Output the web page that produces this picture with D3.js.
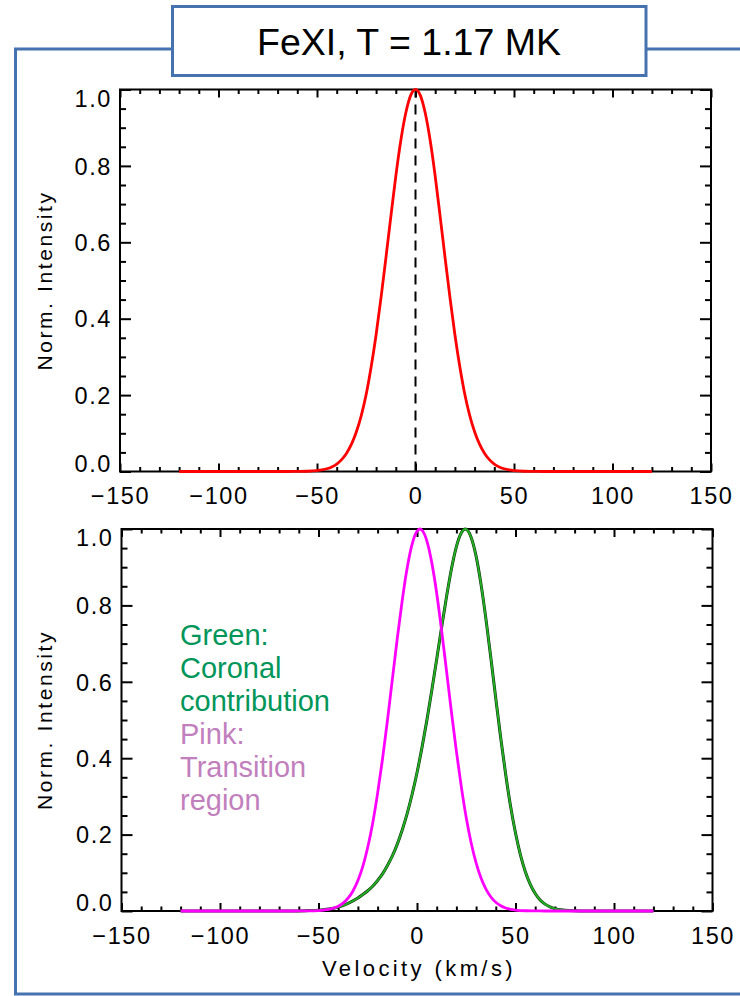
<!DOCTYPE html>
<html><head><meta charset="utf-8">
<script src="https://cdn.jsdelivr.net/npm/d3@7"></script>
<style>body{margin:0;background:#fff}svg{display:block}</style>
</head><body><svg id="c" width="740" height="996"></svg>
<script>
const titleText = "FeXI, T = 1.17 MK";
const xLabel = "Velocity (km/s)";
const yLabel = "Norm. Intensity";
const xDomain = [-150, 150];
const yDomain = [0, 1];
const xMajorTicks = [-150, -100, -50, 0, 50, 100, 150];
const yMajorTicks = [0.0, 0.2, 0.4, 0.6, 0.8, 1.0];

// Top panel: red profile
const redV = [-120,-100,-80,-65,-60,-55,-50,-47.5,-45,-42.5,-40,-37.5,-35,-32.5,-30,-27.5,-25,-22.5,-20,-17.5,-15,-12.5,-10,-7.5,-5,-2.5,0,2.5,5,7.5,10,12.5,15,17.5,20,22.5,25,27.5,30,32.5,35,37.5,40,42.5,45,47.5,50,55,60,65,80,100,120];
const redI = [0,0,0,0,0.0002,0.0007,0.0024,0.0042,0.0072,0.0120,0.0196,0.0310,0.0478,0.0715,0.1040,0.147,0.203,0.274,0.358,0.455,0.560,0.668,0.773,0.865,0.937,0.984,1.000,0.984,0.937,0.865,0.773,0.668,0.560,0.455,0.358,0.274,0.203,0.147,0.1040,0.0715,0.0478,0.0310,0.0196,0.0120,0.0072,0.0042,0.0024,0.0007,0.0002,0,0,0,0];

// Bottom panel: green (coronal) profile
const greenV = [-120,-100,-80,-65,-60,-55,-50,-45,-40,-35,-30,-27.5,-25,-22.5,-20,-17.5,-15,-12.5,-10,-7.5,-5,-2.5,0,2.5,5,7.5,10,12.5,15,17.5,20,22.5,24.5,27.5,30,32.5,35,37.5,40,42.5,45,47.5,50,52.5,55,57.5,60,62.5,65,67.5,70,75,80,85,100,120];
const greenI = [0,0,0,0,0.0003,0.001,0.002,0.005,0.010,0.020,0.034,0.043,0.053,0.065,0.080,0.097,0.119,0.144,0.175,0.212,0.255,0.305,0.362,0.427,0.499,0.577,0.659,0.743,0.823,0.896,0.954,0.990,1.000,0.978,0.929,0.855,0.764,0.662,0.556,0.453,0.358,0.274,0.204,0.147,0.103,0.070,0.046,0.029,0.018,0.011,0.006,0.002,0.0005,0,0,0];

// Bottom panel: pink (transition region) profile
const pinkV = [-120,-100,-80,-65,-60,-55,-50,-47.5,-45,-42.5,-40,-37.5,-35,-32.5,-30,-27.5,-25,-22.5,-20,-17.5,-15,-12.5,-10,-7.5,-5,-2.5,0,1.5,2.5,5,7.5,10,12.5,15,17.5,20,22.5,25,27.5,30,32.5,35,37.5,40,42.5,45,47.5,50,55,60,65,80,100,120];
const pinkI = [0,0,0,0,0.0001,0.0003,0.0012,0.0022,0.0040,0.0072,0.0124,0.0207,0.0334,0.0524,0.0796,0.117,0.167,0.230,0.308,0.398,0.499,0.607,0.714,0.813,0.898,0.960,0.994,1.000,0.997,0.969,0.912,0.832,0.734,0.628,0.520,0.418,0.325,0.244,0.178,0.126,0.0861,0.0571,0.0367,0.0228,0.0137,0.0080,0.0045,0.0025,0.0007,0.0002,0,0,0,0];

const legendGreen = ["Green:", "Coronal", "contribution"];
const legendPink = ["Pink:", "Transition", "region"];

const svg = d3.select("#c");
const FONT = "'Liberation Sans', Arial, sans-serif";

// outer blue frame
svg.append("path")
  .attr("d", "M740,49 H15.5 V994 H740")
  .attr("fill", "none").attr("stroke", "#4672b0").attr("stroke-width", 3);

// title box
svg.append("rect").attr("x", 172.5).attr("y", 6.5).attr("width", 473.5).attr("height", 69)
  .attr("fill", "#fff").attr("stroke", "#4672b0").attr("stroke-width", 3);
svg.append("text").attr("x", 409).attr("y", 55).attr("text-anchor", "middle")
  .attr("font-family", FONT).attr("font-size", 37.5).attr("fill", "#000").text(titleText);

function panel(p) {
  const x = d3.scaleLinear().domain(xDomain).range([p.left, p.right]);
  const y = d3.scaleLinear().domain(yDomain).range([p.bottom, p.top]);
  const g = svg.append("g");
  const xMinor = d3.range(-150, 151, 10).filter(v => v % 50 !== 0);
  const yMinor = d3.range(0, 1.0001, 0.05).filter(v => Math.abs(v * 5 - Math.round(v * 5)) > 1e-6);

  function styleAxis(sel) {
    sel.select(".domain").remove();
    sel.selectAll(".tick line").attr("stroke", "#000").attr("stroke-width", 2);
  }
  // bottom
  g.append("g").attr("transform", `translate(0,${p.bottom})`)
    .call(d3.axisBottom(x).tickValues(xMajorTicks).tickSize(-8).tickPadding(16)
      .tickFormat(d => d < 0 ? "\u2212" + Math.abs(d) : String(d)))
    .call(styleAxis)
    .call(s => s.selectAll("text").attr("font-family", FONT).attr("font-size", 23.5)
      .attr("fill", "#000").attr("letter-spacing", 1.6));
  g.append("g").attr("transform", `translate(0,${p.bottom})`)
    .call(d3.axisBottom(x).tickValues(xMinor).tickSize(-4.5).tickFormat(""))
    .call(styleAxis);
  // top
  g.append("g").attr("transform", `translate(0,${p.top})`)
    .call(d3.axisTop(x).tickValues(xMajorTicks).tickSize(-8).tickFormat(""))
    .call(styleAxis);
  g.append("g").attr("transform", `translate(0,${p.top})`)
    .call(d3.axisTop(x).tickValues(xMinor).tickSize(-4.5).tickFormat(""))
    .call(styleAxis);
  // left
  g.append("g").attr("transform", `translate(${p.left},0)`)
    .call(d3.axisLeft(y).tickValues(yMajorTicks).tickSize(-11).tickPadding(8)
      .tickFormat(d3.format(".1f")))
    .call(styleAxis)
    .call(s => s.selectAll("text").attr("font-family", FONT).attr("font-size", 23.5)
      .attr("fill", "#000").attr("letter-spacing", 1.6)
      .attr("dy", d => d === 1 ? "0.72em" : d === 0 ? "-0.02em" : "0.35em"));
  g.append("g").attr("transform", `translate(${p.left},0)`)
    .call(d3.axisLeft(y).tickValues(yMinor).tickSize(-6).tickFormat(""))
    .call(styleAxis);
  // right
  g.append("g").attr("transform", `translate(${p.right},0)`)
    .call(d3.axisRight(y).tickValues(yMajorTicks).tickSize(-11).tickFormat(""))
    .call(styleAxis);
  g.append("g").attr("transform", `translate(${p.right},0)`)
    .call(d3.axisRight(y).tickValues(yMinor).tickSize(-6).tickFormat(""))
    .call(styleAxis);

  // frame
  g.append("rect").attr("x", p.left).attr("y", p.top)
    .attr("width", p.right - p.left).attr("height", p.bottom - p.top)
    .attr("fill", "none").attr("stroke", "#000").attr("stroke-width", 2);

  // y label
  g.append("text")
    .attr("transform", `translate(${p.ylabX},${(p.top + p.bottom) / 2}) rotate(-90)`)
    .attr("text-anchor", "middle").attr("font-family", FONT).attr("font-size", 21)
    .attr("letter-spacing", 2.6).attr("fill", "#000").text(yLabel);
  return {x, y, g};
}

const line = (x, y) => d3.line().x(d => x(d[0])).y(d => y(d[1])).curve(d3.curveMonotoneX);

// top panel
const P1 = panel({left: 120, right: 711, top: 89.5, bottom: 471.5, ylabX: 52});
P1.g.append("line")
  .attr("x1", P1.x(0)).attr("x2", P1.x(0)).attr("y1", P1.y(0)).attr("y2", P1.y(1))
  .attr("stroke", "#000").attr("stroke-width", 2).attr("stroke-dasharray", "10,7");
P1.g.append("path").datum(d3.zip(redV, redI))
  .attr("d", line(P1.x, P1.y)).attr("fill", "none").attr("stroke", "#ff0000").attr("stroke-width", 2.8);

// bottom panel
const P2 = panel({left: 121.5, right: 712.5, top: 529, bottom: 911, ylabX: 52});
P2.g.append("path").datum(d3.zip(greenV, greenI))
  .attr("d", line(P2.x, P2.y)).attr("fill", "none").attr("stroke", "#113311").attr("stroke-width", 3);
P2.g.append("path").datum(d3.zip(greenV, greenI))
  .attr("d", line(P2.x, P2.y)).attr("fill", "none").attr("stroke", "#22b022").attr("stroke-width", 1.9);
P2.g.append("path").datum(d3.zip(pinkV, pinkI))
  .attr("d", line(P2.x, P2.y)).attr("fill", "none").attr("stroke", "#ff00ff").attr("stroke-width", 2.8);

// x axis title
svg.append("text").attr("x", 419).attr("y", 976).attr("text-anchor", "middle")
  .attr("font-family", FONT).attr("font-size", 22).attr("letter-spacing", 3.4)
  .attr("fill", "#000").text(xLabel);

// annotations
const ann = svg.append("g").attr("font-family", FONT).attr("font-size", 29);
ann.selectAll("text.gr").data(legendGreen).join("text").attr("class", "gr")
  .attr("x", 180).attr("y", (d, i) => 645 + i * 33).attr("fill", "#00965a").text(d => d);
ann.selectAll("text.pk").data(legendPink).join("text").attr("class", "pk")
  .attr("x", 180).attr("y", (d, i) => 744 + i * 33).attr("fill", "#c27fbd").text(d => d);
</script>
</body></html>
